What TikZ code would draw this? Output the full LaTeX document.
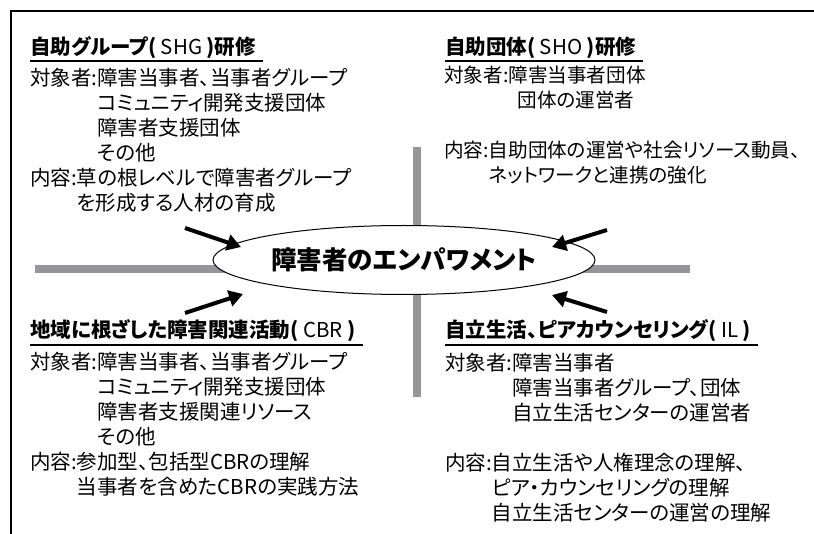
\documentclass[tikz,border=0pt]{standalone}
\usepackage{fontspec}
\setmainfont{Noto Sans CJK JP}[RawFeature=+palt]
\usetikzlibrary{shapes.geometric,arrows.meta}
\definecolor{bargray}{RGB}{150,150,154}
\newcommand{\tgtind}{\phantom{対象者:}}
\newcommand{\nyoind}{\phantom{内容:}}

\begin{document}
\begin{tikzpicture}[x=1pt,y=-1pt,
  head/.style={anchor=base west, inner sep=0pt, font=\fontsize{20.5}{25}\selectfont},
  body/.style={anchor=base west, inner sep=0pt, align=left, font=\fontsize{20.5}{25}\selectfont},
  uline/.style={line width=1.5pt},
  bar/.style={line width=8pt, draw=bargray},
  push/.style={line width=4pt, -{Triangle[length=14pt,width=16pt]}}]
\useasboundingbox (0,0) rectangle (814,534);
\draw[line width=1.6pt] (814,11) -- (11,11) -- (11,534);
\draw[bar] (35,269) -- (690,269);
\draw[bar] (417,147) -- (417,397);
\node[draw, ellipse, fill=white, line width=1pt, minimum width=382pt, minimum height=69pt, inner sep=0pt, font=\fontsize{25.5}{25.5}\selectfont\bfseries] (emp) at (404,260) {障害者のエンパワメント};

\node[head] (shgT) at (30,55) {\textbf{自助グループ(} SHG \textbf{)研修}};
\draw[uline] ([yshift=-6pt]shgT.base west) -- ([yshift=-6pt,xshift=7pt]shgT.base east);
\node[body] (shg) at (30,211) {対象者:障害当事者、当事者グループ\\
  \tgtind コミュニティ開発支援団体\\
  \tgtind 障害者支援団体\\
  \tgtind その他\\
  内容:草の根レベルで障害者グループ\\
  \nyoind を形成する人材の育成};

\node[head] (shoT) at (445,55) {\textbf{自助団体(} SHO \textbf{)研修}};
\draw[uline] ([yshift=-6pt]shoT.base west) -- ([yshift=-6pt,xshift=7pt]shoT.base east);
\node[body, font=\fontsize{19.6}{25}\selectfont] (sho) at (444,183) {対象者:障害当事者団体\\
  \tgtind\hspace{9pt}団体の運営者\\[25pt]
  内容:自助団体の運営や社会リソース動員、\\
  \nyoind ネットワークと連携の強化};

\node[head] (cbrT) at (30,338) {\textbf{地域に根ざした障害関連活動(} CBR \textbf{)}};
\draw[uline] ([yshift=-7pt]cbrT.base west) -- ([yshift=-7pt,xshift=7pt]cbrT.base east);
\node[body] (cbr) at (30,494) {対象者:障害当事者、当事者グループ\\
  \tgtind コミュニティ開発支援団体\\
  \tgtind 障害者支援関連リソース\\
  \tgtind その他\\
  内容:参加型、包括型CBRの理解\\
  \nyoind 当事者を含めたCBRの実践方法};

\node[head] (ilT) at (445,338) {\textbf{自立生活、ピアカウンセリング(} IL \textbf{)}};
\draw[uline] ([yshift=-7pt]ilT.base west) -- ([yshift=-7pt,xshift=7pt]ilT.base east);
\node[body] (il) at (445,520) {対象者:障害当事者\\
  \tgtind 障害当事者グループ、団体\\
  \tgtind 自立生活センターの運営者\\[25pt]
  内容:自立生活や人権理念の理解、\\
  \nyoind ピア・カウンセリングの理解\\
  \nyoind 自立生活センターの運営の理解};

\coordinate (inTL) at (185,228);
\coordinate (inBL) at (185,313);
\coordinate (inTR) at (607,230);
\coordinate (inBR) at (607,312);
\coordinate (atTL) at (241,247);
\coordinate (atBL) at (243,294);
\coordinate (atTR) at (552,247);
\coordinate (atBR) at (552,295);
\draw[push] (inTL) -- (atTL);
\draw[push] (inBL) -- (atBL);
\draw[push] (inTR) -- (atTR);
\draw[push] (inBR) -- (atBR);
\end{tikzpicture}
\end{document}
